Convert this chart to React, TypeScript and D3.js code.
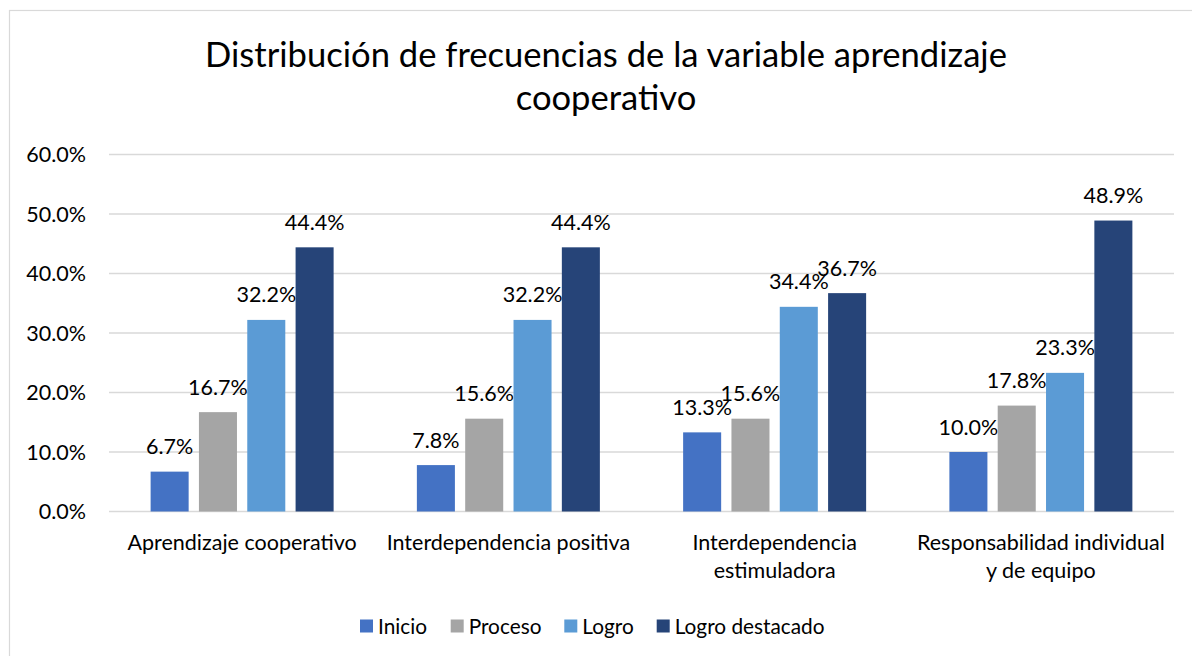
import React from "react";
import * as d3 from "d3";

const categories = [
  "Aprendizaje cooperativo",
  "Interdependencia positiva",
  "Interdependencia\nestimuladora",
  "Responsabilidad individual\ny de equipo",
];
const seriesNames = ["Inicio", "Proceso", "Logro", "Logro destacado"];
const seriesColors = ["#4472C4", "#A5A5A5", "#5B9BD5", "#264478"];
const inicio = [6.7, 7.8, 13.3, 10.0];
const proceso = [16.7, 15.6, 15.6, 17.8];
const logro = [32.2, 32.2, 34.4, 23.3];
const logroDestacado = [44.4, 44.4, 36.7, 48.9];
const yTicks = [0, 10, 20, 30, 40, 50, 60];
const titleLines = ["Distribución de frecuencias de la variable aprendizaje", "cooperativo"];

const FONT = "Lato, 'Open Sans', sans-serif";

export default function App() {
  const W = 1192, H = 656;
  const plotLeft = 109, plotRight = 1174, plotTop = 154.5, plotBottom = 511.5;
  const values = [inicio, proceso, logro, logroDestacado];

  const x0 = d3.scaleBand<string>().domain(categories).range([plotLeft, plotRight])
    .paddingInner(0.3127).paddingOuter(0.1563);
  const x1 = d3.scaleBand<string>().domain(seriesNames).range([0, x0.bandwidth()])
    .paddingInner(0.213).paddingOuter(0);
  const y = d3.scaleLinear().domain([0, 60]).range([plotBottom, plotTop]);

  const legendX = [360, 450.7, 564.3, 656.7];

  return (
    <svg width={W} height={H} style={{ position: "absolute", left: 0, top: 0, background: "#fff" }}
      fontFamily={FONT}>
      <rect x={0} y={0} width={W} height={H} fill="#fff" />
      <rect x={9.5} y={10.5} width={W + 20} height={H + 20} fill="none" stroke="#D9D9D9" strokeWidth={1.2} />
      {titleLines.map((t, i) => (
        <text key={i} x={606} y={67 + i * 43} textAnchor="middle" fontSize={34.6} fill="#000">{t}</text>
      ))}
      {yTicks.map((t) => (
        <g key={t}>
          <line x1={plotLeft} x2={plotRight} y1={y(t)} y2={y(t)} stroke="#D9D9D9" strokeWidth={1.5} />
          <text x={86} y={y(t)} dy="0.35em" textAnchor="end" fontSize={21.5} fill="#000">
            {d3.format(".1f")(t) + "%"}
          </text>
        </g>
      ))}
      {categories.map((c, ci) => (
        <g key={c} transform={`translate(${x0(c)},0)`}>
          {seriesNames.map((s, si) => {
            const v = values[si][ci];
            const bx = x1(s)!;
            return (
              <g key={s}>
                <rect x={bx} y={y(v)} width={x1.bandwidth()} height={plotBottom - y(v)} fill={seriesColors[si]} />
                <text x={bx + x1.bandwidth() / 2} y={y(v) - 17.5} textAnchor="middle" fontSize={21.5} fill="#000">
                  {v.toFixed(1) + "%"}
                </text>
              </g>
            );
          })}
          {c.split("\n").map((line, li) => (
            <text key={li} x={x0.bandwidth() / 2} y={550 + li * 28} textAnchor="middle" fontSize={21.5} fill="#000">
              {line}
            </text>
          ))}
        </g>
      ))}
      {seriesNames.map((s, i) => (
        <g key={s}>
          <rect x={legendX[i]} y={619.5} width={13} height={13} fill={seriesColors[i]} />
          <text x={legendX[i] + 18} y={633.5} fontSize={20.8} fill="#000">{s}</text>
        </g>
      ))}
    </svg>
  );
}
